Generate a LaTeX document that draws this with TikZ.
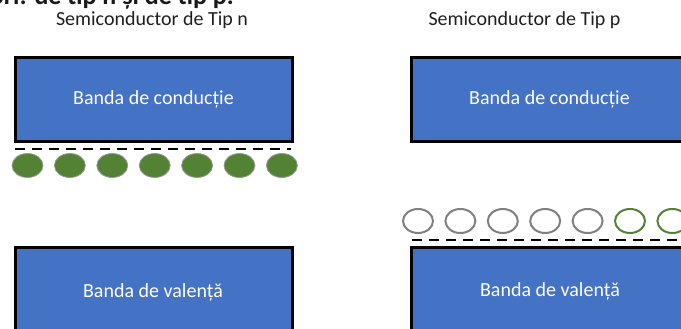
\documentclass[tikz,border=0pt]{standalone}
\usepackage{fontspec}
\setmainfont{Carlito}
\usetikzlibrary{shapes.geometric}
\definecolor{bandblue}{HTML}{4472C4}
\definecolor{electron}{HTML}{548235}
\definecolor{holegrey}{HTML}{808080}
\tikzset{
  band/.style={draw=black, line width=3pt, fill=bandblue, rectangle,
    minimum width=277pt, minimum height=84pt, inner sep=0pt},
  bandtext/.style={anchor=base, text=white, inner sep=0pt,
    font=\fontsize{20}{24}\selectfont},
  title/.style={anchor=base, text=black!88, inner sep=0pt,
    font=\fontsize{20}{24}\selectfont},
  level/.style={draw=black, line width=2.2pt, dash pattern=on 10pt off 7pt},
  electronmark/.style={ellipse, fill=electron, draw=holegrey!80, line width=0.8pt,
    minimum width=31pt, minimum height=24pt, inner sep=0pt},
  holemark/.style={ellipse, draw=holegrey, line width=2pt, fill=white,
    minimum width=30pt, minimum height=24pt, inner sep=0pt},
  freehole/.style={holemark, draw=electron}
}
\begin{document}
\begin{tikzpicture}[x=1pt, y=-1pt]
\useasboundingbox (0,0) rectangle (681,329);
\clip (0,0) rectangle (681,329);

% caption running above the figure
\node[anchor=base east, inner sep=0pt, text=black!90,
  font=\bfseries\fontsize{26}{29}\selectfont] (caption) at (234,5)
  {Semiconductori: de tip n și de tip p.};

% n-type semiconductor
\node[title] (titlen) at (152,26) {Semiconductor de Tip n};
\node[band] (condn) at (154,100) {};
\node[bandtext] (condntext) at (153.5,105) {Banda de conducție};
\coordinate (donorL) at (15,149);
\coordinate (donorR) at (291,149);
\draw[level] (donorL) -- (donorR);
\foreach \i in {0,...,6}
  \node[electronmark] (el\i) at ({27.5+42.4*\i},165.5) {};
\node[band] (valn) at (154,289.5) {};
\node[bandtext] (valntext) at (153,297) {Banda de valență};

% p-type semiconductor
\node[title] (titlep) at (524.5,26) {Semiconductor de Tip p};
\node[band] (condp) at (550,100) {};
\node[bandtext] (condptext) at (549.5,105) {Banda de conducție};
\foreach \i in {0,...,4}
  \node[holemark] (ho\i) at ({418+42.4*\i},221) {};
\foreach \i in {5,6}
  \node[freehole] (ho\i) at ({418+42.4*\i},221) {};
\coordinate (acceptL) at (412,240);
\coordinate (acceptR) at (690,240);
\draw[level] (acceptL) -- (acceptR);
\node[band] (valp) at (550,289.5) {};
\node[bandtext] (valptext) at (550,296) {Banda de valență};
\end{tikzpicture}
\end{document}
